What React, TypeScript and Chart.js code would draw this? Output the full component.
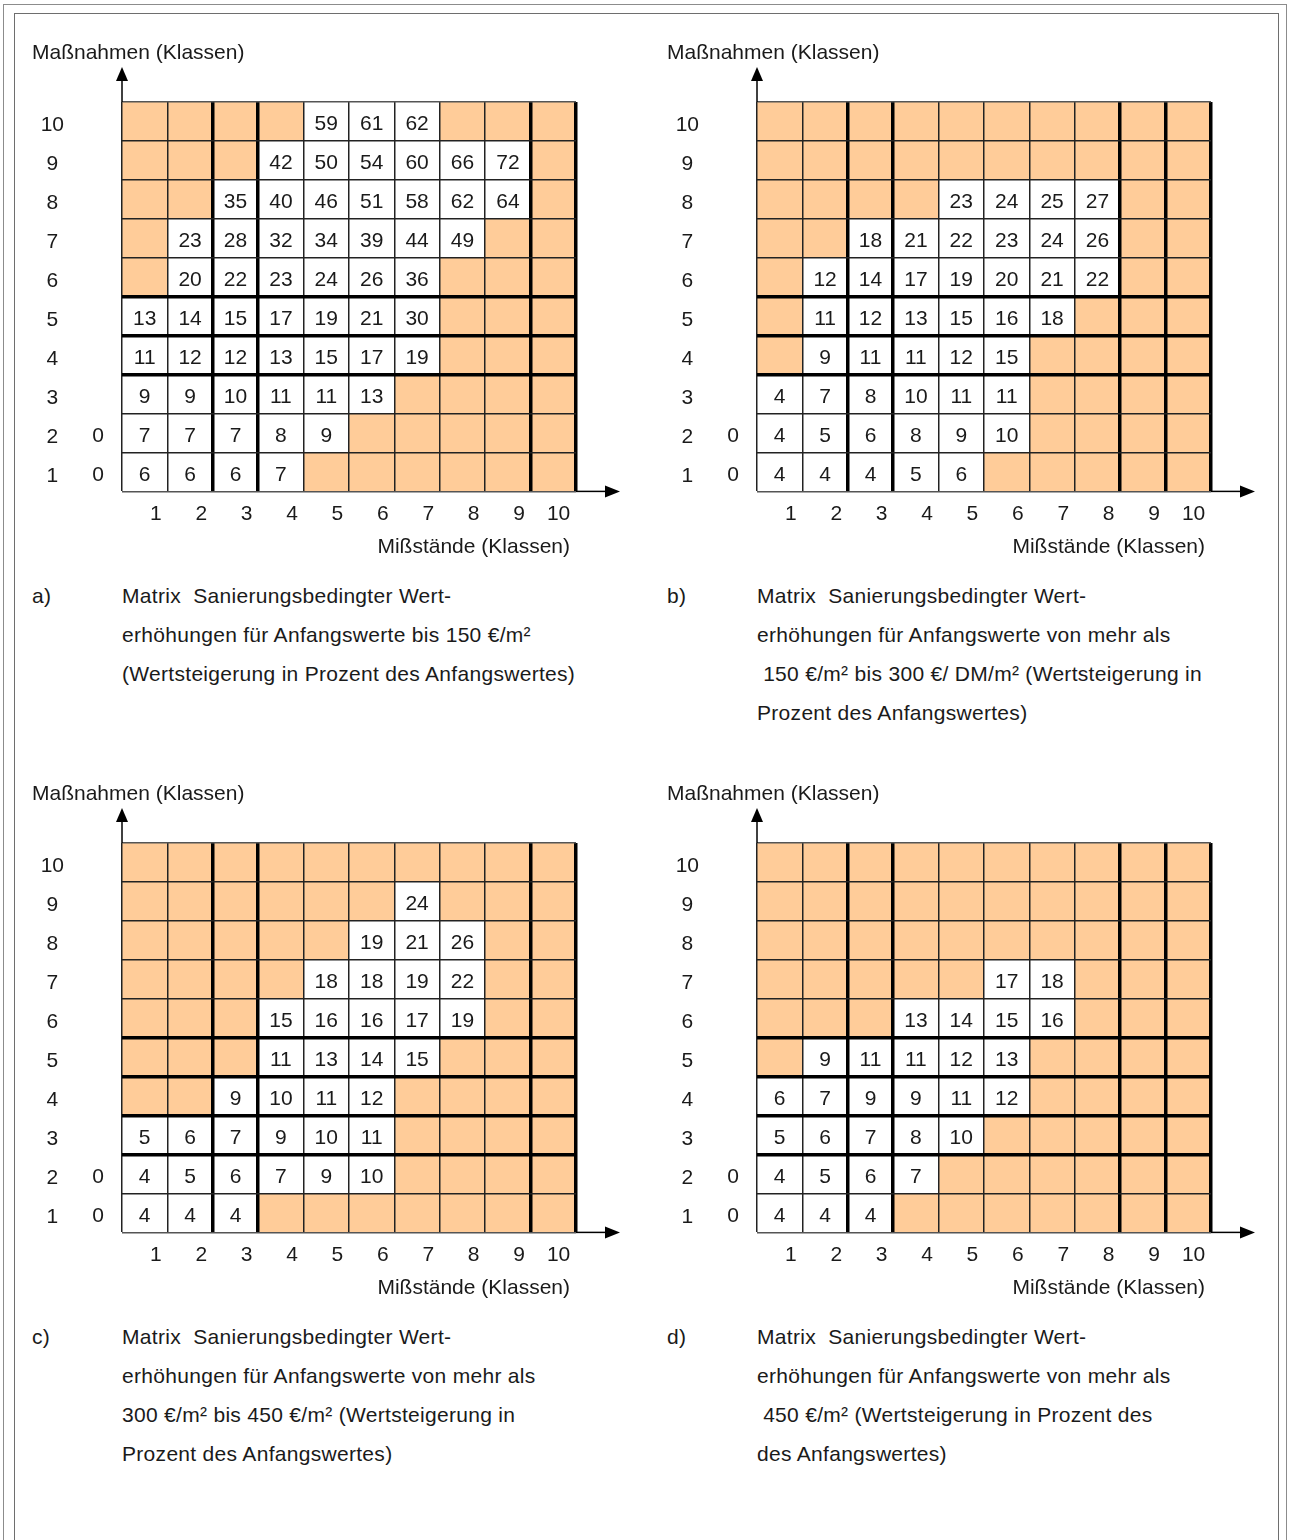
import React, { useEffect, useRef } from 'react';
import { Chart, registerables } from 'chart.js';

Chart.register(...registerables);

// ---------- data ----------
const classLabels = ['1', '2', '3', '4', '5', '6', '7', '8', '9', '10'];
const zeroColumnLabels = ['0', '0', '', '', '', '', '', '', '', ''];
const yTitle = 'Maßnahmen (Klassen)';
const xTitle = 'Mißstände (Klassen)';

type Cell = number | null;
// rows listed from Maßnahmen class 1 (bottom) to 10 (top); columns = Mißstände classes 1..10
const matrixA: Cell[][] = [
  [6, 6, 6, 7, null, null, null, null, null, null],
  [7, 7, 7, 8, 9, null, null, null, null, null],
  [9, 9, 10, 11, 11, 13, null, null, null, null],
  [11, 12, 12, 13, 15, 17, 19, null, null, null],
  [13, 14, 15, 17, 19, 21, 30, null, null, null],
  [null, 20, 22, 23, 24, 26, 36, null, null, null],
  [null, 23, 28, 32, 34, 39, 44, 49, null, null],
  [null, null, 35, 40, 46, 51, 58, 62, 64, null],
  [null, null, null, 42, 50, 54, 60, 66, 72, null],
  [null, null, null, null, 59, 61, 62, null, null, null],
];
const matrixB: Cell[][] = [
  [4, 4, 4, 5, 6, null, null, null, null, null],
  [4, 5, 6, 8, 9, 10, null, null, null, null],
  [4, 7, 8, 10, 11, 11, null, null, null, null],
  [null, 9, 11, 11, 12, 15, null, null, null, null],
  [null, 11, 12, 13, 15, 16, 18, null, null, null],
  [null, 12, 14, 17, 19, 20, 21, 22, null, null],
  [null, null, 18, 21, 22, 23, 24, 26, null, null],
  [null, null, null, null, 23, 24, 25, 27, null, null],
  [null, null, null, null, null, null, null, null, null, null],
  [null, null, null, null, null, null, null, null, null, null],
];
const matrixC: Cell[][] = [
  [4, 4, 4, null, null, null, null, null, null, null],
  [4, 5, 6, 7, 9, 10, null, null, null, null],
  [5, 6, 7, 9, 10, 11, null, null, null, null],
  [null, null, 9, 10, 11, 12, null, null, null, null],
  [null, null, null, 11, 13, 14, 15, null, null, null],
  [null, null, null, 15, 16, 16, 17, 19, null, null],
  [null, null, null, null, 18, 18, 19, 22, null, null],
  [null, null, null, null, null, 19, 21, 26, null, null],
  [null, null, null, null, null, null, 24, null, null, null],
  [null, null, null, null, null, null, null, null, null, null],
];
const matrixD: Cell[][] = [
  [4, 4, 4, null, null, null, null, null, null, null],
  [4, 5, 6, 7, null, null, null, null, null, null],
  [5, 6, 7, 8, 10, null, null, null, null, null],
  [6, 7, 9, 9, 11, 12, null, null, null, null],
  [null, 9, 11, 11, 12, 13, null, null, null, null],
  [null, null, null, 13, 14, 15, 16, null, null, null],
  [null, null, null, null, null, 17, 18, null, null, null],
  [null, null, null, null, null, null, null, null, null, null],
  [null, null, null, null, null, null, null, null, null, null],
  [null, null, null, null, null, null, null, null, null, null],
];

const captionA = [
  'Matrix  Sanierungsbedingter Wert-',
  'erhöhungen für Anfangswerte bis 150 €/m²',
  '(Wertsteigerung in Prozent des Anfangswertes)',
];
const captionB = [
  'Matrix  Sanierungsbedingter Wert-',
  'erhöhungen für Anfangswerte von mehr als',
  ' 150 €/m² bis 300 €/ DM/m² (Wertsteigerung in',
  'Prozent des Anfangswertes)',
];
const captionC = [
  'Matrix  Sanierungsbedingter Wert-',
  'erhöhungen für Anfangswerte von mehr als',
  '300 €/m² bis 450 €/m² (Wertsteigerung in',
  'Prozent des Anfangswertes)',
];
const captionD = [
  'Matrix  Sanierungsbedingter Wert-',
  'erhöhungen für Anfangswerte von mehr als',
  ' 450 €/m² (Wertsteigerung in Prozent des',
  'des Anfangswertes)',
];

// ---------- styles ----------
const FONT_FAMILY = '"Liberation Sans", Arial, sans-serif';
const FONT_SIZE = 21;
const TEXT_COLOR = '#1a1a1a';
const EMPTY_FILL = '#FFCC99';
const VALUE_FILL = '#FFFFFF';
const CANVAS_W = 640;
const CANVAS_H = 540;
const PAD_LEFT = 22;
const Y_AXIS_W = 100;
const PAD_TOP = 80;
const PAD_RIGHT = 64;
const X_AXIS_H = 40;
const PAD_BOTTOM = 29;
const TEXT_DY = 3;

interface PanelProps {
  matrix: Cell[][];
  thickCols: number[];
  thickRows: number[];
  gridLeft: number;
  gridTop: number;
  tag: string;
  caption: string[];
}

function gridStyle(thick: number[], edgeLight: boolean) {
  return {
    display: true,
    offset: true,
    z: 1,
    drawTicks: false,
    lineWidth: (ctx: any) => {
      const i = typeof ctx.index === 'number' ? ctx.index : 10;
      return thick.includes(i) ? 3.5 : 1.5;
    },
    color: (ctx: any) => {
      const i = typeof ctx.index === 'number' ? ctx.index : 10;
      if (thick.includes(i)) return '#000000';
      if (edgeLight && (i === 0 || i === 10)) return '#555555';
      return '#222222';
    },
  };
}

function MatrixPanel({ matrix, thickCols, thickRows, gridLeft, gridTop, tag, caption }: PanelProps) {
  const ref = useRef<HTMLCanvasElement | null>(null);

  useEffect(() => {
    if (!ref.current) return;
    const font = { family: FONT_FAMILY, size: FONT_SIZE };
    const datasets = matrix.map((row, r) => ({
      label: classLabels[r],
      data: classLabels.map(() => 1),
      backgroundColor: row.map((v) => (v == null ? EMPTY_FILL : VALUE_FILL)),
      borderWidth: 0,
      barPercentage: 1,
      categoryPercentage: 1,
      stack: 'cells',
    }));

    const overlay = {
      id: 'matrixOverlay',
      afterDraw(chart: any) {
        const { ctx, chartArea: a } = chart;
        ctx.save();
        ctx.font = `${FONT_SIZE}px ${FONT_FAMILY}`;
        ctx.fillStyle = TEXT_COLOR;
        ctx.textAlign = 'center';
        ctx.textBaseline = 'middle';
        matrix.forEach((row, r) => {
          const meta = chart.getDatasetMeta(r);
          row.forEach((v, c) => {
            if (v == null) return;
            const el = meta.data[c];
            ctx.fillText(String(v), el.x, (el.y + el.base) / 2 + TEXT_DY);
          });
        });
        const ys = chart.scales.y;
        zeroColumnLabels.forEach((t, r) => {
          if (t) ctx.fillText(t, a.left - 24, ys.getPixelForValue(r + 0.5) + TEXT_DY);
        });
        ctx.textAlign = 'left';
        ctx.fillText(yTitle, a.left - 90, a.top - 49);
        ctx.textAlign = 'right';
        ctx.fillText(xTitle, a.right - 6, a.bottom + 56);

        // axis arrows
        ctx.strokeStyle = '#000';
        ctx.fillStyle = '#000';
        ctx.lineWidth = 1.5;
        ctx.beginPath();
        ctx.moveTo(a.left, a.top);
        ctx.lineTo(a.left, a.top - 22);
        ctx.stroke();
        ctx.beginPath();
        ctx.moveTo(a.left, a.top - 35);
        ctx.lineTo(a.left - 6, a.top - 21);
        ctx.lineTo(a.left + 6, a.top - 21);
        ctx.closePath();
        ctx.fill();
        ctx.beginPath();
        ctx.moveTo(a.right, a.bottom);
        ctx.lineTo(a.right + 30, a.bottom);
        ctx.stroke();
        ctx.beginPath();
        ctx.moveTo(a.right + 44, a.bottom);
        ctx.lineTo(a.right + 29, a.bottom - 6);
        ctx.lineTo(a.right + 29, a.bottom + 6);
        ctx.closePath();
        ctx.fill();
        ctx.restore();
      },
    };

    const chart = new Chart(ref.current, {
      type: 'bar',
      data: { labels: classLabels, datasets },
      options: {
        animation: false,
        responsive: false,
        maintainAspectRatio: false,
        devicePixelRatio: 1,
        events: [],
        layout: { padding: { left: PAD_LEFT, top: PAD_TOP, right: PAD_RIGHT, bottom: PAD_BOTTOM } },
        plugins: { legend: { display: false }, tooltip: { enabled: false }, title: { display: false } },
        scales: {
          x: {
            type: 'category',
            stacked: true,
            offset: true,
            grid: gridStyle(thickCols, false) as any,
            border: { display: false },
            ticks: {
              font,
              color: TEXT_COLOR,
              padding: 10,
              align: 'end',
              labelOffset: 17,
              maxRotation: 0,
              minRotation: 0,
              autoSkip: false,
            },
            afterFit: (s: any) => {
              s.height = X_AXIS_H;
            },
          },
          y: {
            type: 'linear',
            stacked: true,
            min: 0,
            max: 10,
            afterBuildTicks: (s: any) => {
              s.ticks = classLabels.map((_, i) => ({ value: i + 0.5 }));
            },
            grid: gridStyle(thickRows, true) as any,
            border: { display: false },
            ticks: {
              font,
              color: TEXT_COLOR,
              padding: 58,
              crossAlign: 'center',
              labelOffset: TEXT_DY + 1,
              autoSkip: false,
              callback: (v: any) => classLabels[Math.round(Number(v) - 0.5)] ?? '',
            },
            afterFit: (s: any) => {
              s.width = Y_AXIS_W;
            },
          },
        },
      },
      plugins: [overlay],
    } as any);
    return () => chart.destroy();
  }, [matrix, thickCols, thickRows]);

  const textStyle: React.CSSProperties = {
    position: 'absolute',
    fontFamily: FONT_FAMILY,
    fontSize: FONT_SIZE,
    lineHeight: '24px',
    color: TEXT_COLOR,
    whiteSpace: 'pre',
    letterSpacing: '0.3px',
    margin: 0,
  };

  return (
    <>
      <canvas
        ref={ref}
        width={CANVAS_W}
        height={CANVAS_H}
        style={{ position: 'absolute', left: gridLeft - 122, top: gridTop - PAD_TOP, width: CANVAS_W, height: CANVAS_H }}
      />
      <div style={{ ...textStyle, left: gridLeft - 90, top: gridTop + 494 - 12 }}>{tag}</div>
      {caption.map((line, i) => (
        <div key={i} style={{ ...textStyle, left: gridLeft, top: gridTop + 494 + 39 * i - 12 }}>
          {line}
        </div>
      ))}
    </>
  );
}

export default function App() {
  return (
    <div
      style={{
        position: 'absolute',
        left: 0,
        top: 0,
        width: 1293,
        height: 1540,
        overflow: 'hidden',
        background: '#ffffff',
      }}
    >
      <div
        style={{
          position: 'absolute',
          left: 3,
          top: 4,
          width: 1282,
          height: 1600,
          border: '1px solid #8c8c8c',
        }}
      />
      <div
        style={{
          position: 'absolute',
          left: 14,
          top: 13,
          width: 1263,
          height: 1600,
          border: '1px solid #6e6e6e',
        }}
      />
      <MatrixPanel matrix={matrixA} thickCols={[2, 3, 9, 10]} thickRows={[3, 4, 5]} gridLeft={122} gridTop={102} tag="a)" caption={captionA} />
      <MatrixPanel matrix={matrixB} thickCols={[2, 3, 8, 9, 10]} thickRows={[3, 4, 5]} gridLeft={757} gridTop={102} tag="b)" caption={captionB} />
      <MatrixPanel matrix={matrixC} thickCols={[2, 3, 9, 10]} thickRows={[2, 3, 4, 5]} gridLeft={122} gridTop={843} tag="c)" caption={captionC} />
      <MatrixPanel matrix={matrixD} thickCols={[2, 3, 8, 9, 10]} thickRows={[2, 3, 4, 5]} gridLeft={757} gridTop={843} tag="d)" caption={captionD} />
    </div>
  );
}
